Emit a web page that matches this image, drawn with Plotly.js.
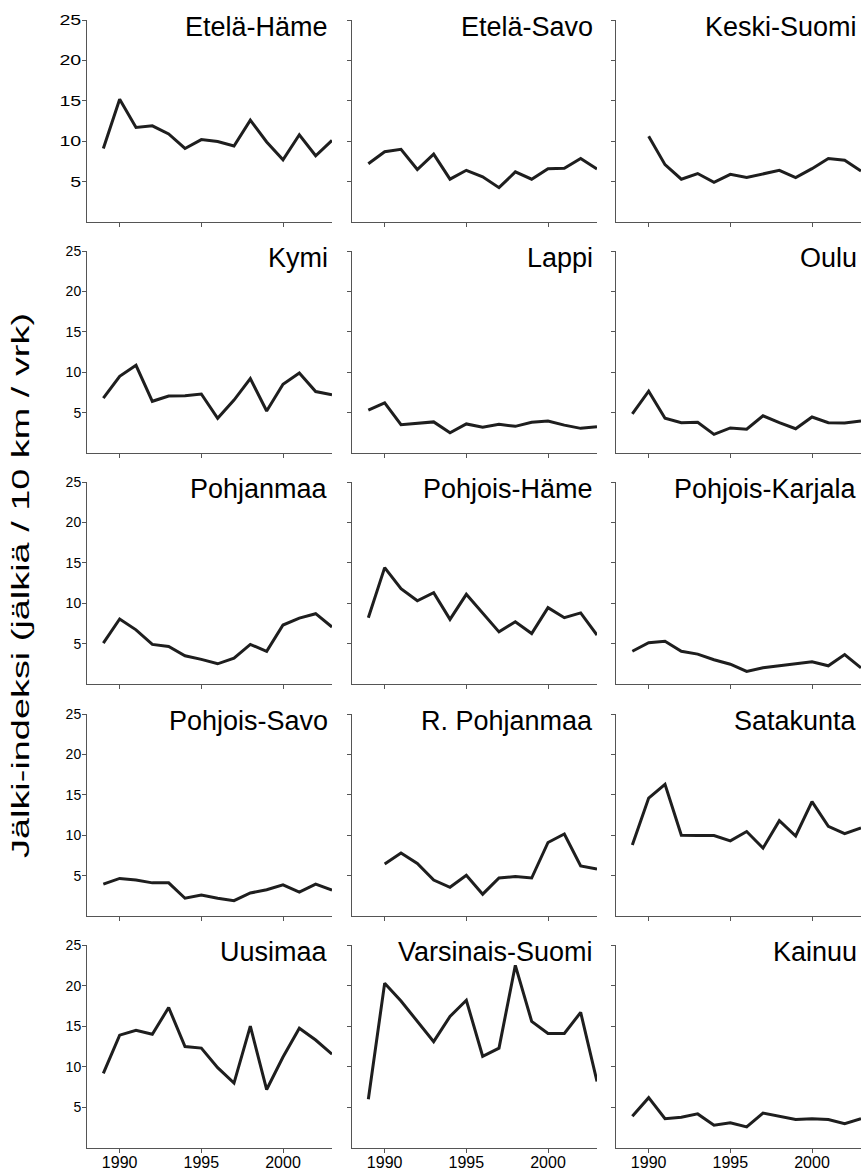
<!DOCTYPE html>
<html>
<head>
<meta charset="utf-8">
<script src="https://cdn.plot.ly/plotly-3.0.1.min.js"></script>
<style>
html,body{margin:0;padding:0;background:#fff;}
#chart{width:863px;height:1173px;}
</style>
</head>
<body>
<div id="chart"></div>
<script>
// ---- Data ----
const years = [1989, 1990, 1991, 1992, 1993, 1994, 1995, 1996, 1997, 1998, 1999, 2000, 2001, 2002, 2003];
const regions = ["Etelä-Häme", "Etelä-Savo", "Keski-Suomi", "Kymi", "Lappi", "Oulu",
  "Pohjanmaa", "Pohjois-Häme", "Pohjois-Karjala", "Pohjois-Savo", "R. Pohjanmaa", "Satakunta",
  "Uusimaa", "Varsinais-Suomi", "Kainuu"];
const etelaHame      = [9.1, 15.2, 11.7, 11.9, 10.9, 9.1, 10.2, 9.95, 9.4, 12.6, 9.9, 7.7, 10.8, 8.2, 10.1];
const etelaSavo      = [7.2, 8.7, 9.0, 6.5, 8.4, 5.3, 6.4, 5.6, 4.25, 6.2, 5.3, 6.6, 6.65, 7.85, 6.55];
const keskiSuomi     = [null, 10.6, 7.1, 5.3, 6.0, 4.9, 5.9, 5.5, 5.95, 6.4, 5.5, 6.6, 7.85, 7.65, 6.3];
const kymi           = [6.8, 9.5, 10.85, 6.4, 7.05, 7.1, 7.3, 4.3, 6.55, 9.2, 5.2, 8.5, 9.9, 7.6, 7.2];
const lappi          = [5.3, 6.2, 3.5, 3.7, 3.85, 2.5, 3.6, 3.2, 3.55, 3.3, 3.8, 3.95, 3.45, 3.05, 3.25];
const oulu           = [4.85, 7.65, 4.3, 3.75, 3.8, 2.3, 3.1, 2.95, 4.6, 3.75, 3.0, 4.45, 3.75, 3.7, 3.95];
const pohjanmaa      = [5.05, 8.05, 6.7, 4.9, 4.65, 3.5, 3.05, 2.5, 3.2, 4.9, 4.05, 7.3, 8.15, 8.7, 7.05];
const pohjoisHame    = [8.2, 14.4, 11.8, 10.3, 11.3, 8.0, 11.1, 8.8, 6.45, 7.7, 6.25, 9.45, 8.2, 8.8, 6.05];
const pohjoisKarjala = [4.05, 5.1, 5.3, 4.05, 3.7, 3.0, 2.45, 1.55, 2.0, 2.25, 2.45, 2.75, 2.25, 3.65, 2.0];
const pohjoisSavo    = [3.95, 4.65, 4.45, 4.1, 4.1, 2.2, 2.6, 2.2, 1.9, 2.85, 3.25, 3.85, 2.95, 3.95, 3.2];
const rPohjanmaa     = [null, 6.45, 7.8, 6.5, 4.45, 3.55, 5.05, 2.7, 4.7, 4.9, 4.7, 9.1, 10.15, 6.2, 5.8];
const satakunta      = [8.8, 14.6, 16.3, 10.0, 9.95, 9.95, 9.3, 10.45, 8.4, 11.8, 9.9, 14.15, 11.1, 10.2, 10.9];
const uusimaa        = [9.2, 13.9, 14.5, 14.0, 17.3, 12.5, 12.3, 9.9, 8.0, 15.0, 7.2, 11.2, 14.75, 13.3, 11.55];
const varsinaisSuomi = [6.0, 20.3, 18.1, 15.6, 13.1, 16.2, 18.2, 11.3, 12.3, 22.5, 15.6, 14.1, 14.1, 16.7, 8.2];
const kainuu         = [3.9, 6.2, 3.6, 3.8, 4.2, 2.8, 3.1, 2.6, 4.3, 3.9, 3.5, 3.6, 3.5, 3.0, 3.6];
const series = [etelaHame, etelaSavo, keskiSuomi, kymi, lappi, oulu, pohjanmaa, pohjoisHame,
  pohjoisKarjala, pohjoisSavo, rPohjanmaa, satakunta, uusimaa, varsinaisSuomi, kainuu];
const xTickVals = [1990, 1995, 2000];
const yTickVals = [5, 10, 15, 20, 25];
const yTitle = "Jälki-indeksi (jälkiä / 10 km / vrk)";

// ---- Layout geometry (pixels) ----
const W = 863, H = 1173;
const colPx = [[87, 332], [352, 597], [616, 861]];
const rowPx = [[20, 222], [251, 453], [482, 684], [714, 916], [945, 1148]];
const FONT = "Liberation Sans, Arial, Helvetica, sans-serif";
const axisColor = "#555";

const traces = [];
const layout = {
  width: W, height: H,
  margin: {l: 0, r: 0, t: 0, b: 0},
  paper_bgcolor: "#fff", plot_bgcolor: "#fff",
  showlegend: false,
  font: {family: FONT, color: "#000"},
  annotations: []
};

series.forEach((vals, i) => {
  const row = Math.floor(i / 3), col = i % 3;
  const n = i + 1;
  const xa = n === 1 ? "xaxis" : "xaxis" + n;
  const ya = n === 1 ? "yaxis" : "yaxis" + n;
  const xr = n === 1 ? "x" : "x" + n;
  const yr = n === 1 ? "y" : "y" + n;
  traces.push({
    x: years, y: vals, xaxis: xr, yaxis: yr,
    type: "scatter", mode: "lines",
    line: {color: "#1e1e1e", width: 3},
    connectgaps: false, hoverinfo: "skip"
  });
  layout[xa] = {
    domain: [colPx[col][0] / W, colPx[col][1] / W],
    anchor: yr, range: [1988, 2003],
    showgrid: false, zeroline: false,
    showline: true, linecolor: axisColor, linewidth: 1,
    ticks: "outside", ticklen: 4, tickwidth: 1, tickcolor: axisColor,
    tickmode: "array", tickvals: xTickVals,
    showticklabels: row === 4, ticklabelstandoff: -4,
    tickfont: {family: FONT, size: 16, color: "#000"}
  };
  layout[ya] = {
    domain: [1 - rowPx[row][1] / H, 1 - rowPx[row][0] / H],
    anchor: xr, range: [0, 25],
    showgrid: false, zeroline: false,
    showline: true, linecolor: axisColor, linewidth: 1,
    ticks: "outside", ticklen: 4, tickwidth: 1, tickcolor: axisColor,
    tickmode: "array", tickvals: yTickVals,
    showticklabels: col === 0, ticklabelstandoff: -2,
    tickfont: {family: FONT, size: 14, color: "#000"}
  };
  layout.annotations.push({
    text: regions[i], xref: "paper", yref: "paper",
    x: (colPx[col][1] - 2) / W, y: 1 - (rowPx[row][0] - 10) / H,
    xanchor: "right", yanchor: "top", showarrow: false,
    font: {family: FONT, size: 27, color: "#000"}
  });
});

layout.annotations.push({
  text: yTitle, xref: "paper", yref: "paper",
  x: 21 / W, y: 1 - 586 / H, xanchor: "center", yanchor: "middle",
  textangle: -90, showarrow: false,
  font: {family: FONT, size: 23, color: "#000"}
});

function widen(el, factor) {
  const len = el.getComputedTextLength();
  if (len > 0) {
    el.setAttribute("textLength", (len * factor).toFixed(1));
    el.setAttribute("lengthAdjust", "spacingAndGlyphs");
  }
}

Plotly.newPlot("chart", traces, layout, {staticPlot: true, displayModeBar: false}).then(gd => {
  // the reference uses wide, stretched lettering for the axis title and tick labels
  const t = gd.querySelector('.annotation[data-index="15"] text.annotation-text');
  if (t) {
    t.setAttribute("textLength", "545");
    t.setAttribute("lengthAdjust", "spacingAndGlyphs");
  }
  gd.querySelectorAll("g.ytick text").forEach(el => widen(el, 1.4));
  gd.querySelectorAll("g.xtick text").forEach(el => widen(el, 1.12));
});
</script>
</body>
</html>
